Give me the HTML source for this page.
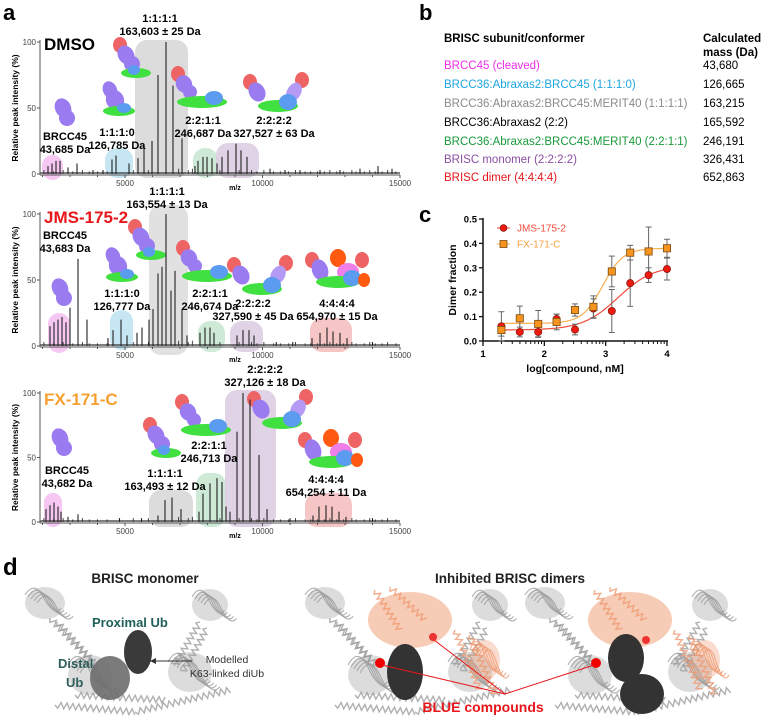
<!DOCTYPE html>
<html><head><meta charset="utf-8">
<style>
html,body{margin:0;padding:0;background:#fff;}
svg{display:block;font-family:"Liberation Sans",Arial,sans-serif;}
.b{font-weight:bold;}
</style></head>
<body>
<svg id="fig" width="763" height="717" viewBox="0 0 763 717" xmlns="http://www.w3.org/2000/svg">
<text x="3" y="20" font-size="22" class="b">a</text>
<text x="419" y="20" font-size="22" class="b">b</text>
<text x="419" y="222" font-size="22" class="b">c</text>
<text x="3" y="575" font-size="24" class="b">d</text>

<g id="spectra"></g>

<g font-size="11" class="b" text-anchor="middle">
<text x="44" y="50" font-size="17" text-anchor="start">DMSO</text>
<text x="160" y="22">1:1:1:1</text>
<text x="160" y="35">163,603 ± 25 Da</text>
<text x="65" y="140">BRCC45</text>
<text x="65" y="153">43,685 Da</text>
<text x="117" y="136">1:1:1:0</text>
<text x="117" y="149">126,785 Da</text>
<text x="203" y="124">2:2:1:1</text>
<text x="203" y="137">246,687 Da</text>
<text x="274" y="124">2:2:2:2</text>
<text x="274" y="137">327,527 ± 63 Da</text>

<text x="44" y="223" font-size="17" fill="#e8161b" text-anchor="start">JMS-175-2</text>
<text x="167" y="195">1:1:1:1</text>
<text x="167" y="208">163,554 ± 13 Da</text>
<text x="65" y="239">BRCC45</text>
<text x="65" y="252">43,683 Da</text>
<text x="122" y="297">1:1:1:0</text>
<text x="122" y="310">126,777 Da</text>
<text x="210" y="297">2:2:1:1</text>
<text x="210" y="310">246,674 Da</text>
<text x="253" y="307">2:2:2:2</text>
<text x="253" y="320">327,590 ± 45 Da</text>
<text x="337" y="307">4:4:4:4</text>
<text x="337" y="320">654,970 ± 15 Da</text>

<text x="44" y="405" font-size="17" fill="#f5a030" text-anchor="start">FX-171-C</text>
<text x="265" y="373">2:2:2:2</text>
<text x="265" y="386">327,126 ± 18 Da</text>
<text x="67" y="474">BRCC45</text>
<text x="67" y="487">43,682 Da</text>
<text x="165" y="477">1:1:1:1</text>
<text x="165" y="490">163,493 ± 12 Da</text>
<text x="209" y="449">2:2:1:1</text>
<text x="209" y="462">246,713 Da</text>
<text x="326" y="483">4:4:4:4</text>
<text x="326" y="496">654,254 ± 11 Da</text>
</g>

<g font-size="11.5">
<text x="444" y="42" class="b">BRISC subunit/conformer</text>
<text x="703" y="42" class="b">Calculated</text>
<text x="703" y="56" class="b">mass (Da)</text>
<text x="444" y="69" fill="#ee2ee8">BRCC45 (cleaved)</text>
<text x="703" y="69">43,680</text>
<text x="444" y="88" fill="#1ea6e0">BRCC36:Abraxas2:BRCC45 (1:1:1:0)</text>
<text x="703" y="88">126,665</text>
<text x="444" y="107" fill="#8a8a8a">BRCC36:Abraxas2:BRCC45:MERIT40 (1:1:1:1)</text>
<text x="703" y="107">163,215</text>
<text x="444" y="126">BRCC36:Abraxas2 (2:2)</text>
<text x="703" y="126">165,592</text>
<text x="444" y="145" fill="#1a9a3c">BRCC36:Abraxas2:BRCC45:MERIT40 (2:2:1:1)</text>
<text x="703" y="145">246,191</text>
<text x="444" y="163" fill="#8b4ea0">BRISC monomer (2:2:2:2)</text>
<text x="703" y="163">326,431</text>
<text x="444" y="181" fill="#e8161b">BRISC dimer (4:4:4:4)</text>
<text x="703" y="181">652,863</text>
</g>

<g id="chart"></g>

<g id="panel-d">
<text x="145" y="583" font-size="13.5" class="b" text-anchor="middle" fill="#222">BRISC monomer</text>
<text x="510" y="583" font-size="13.5" class="b" text-anchor="middle" fill="#222">Inhibited BRISC dimers</text>
<g id="ribbons"></g>
<ellipse cx="110" cy="678" rx="20" ry="22" fill="#6d6d6d" opacity="0.9"/>
<ellipse cx="138" cy="652" rx="14" ry="22" fill="#3a3a3a"/>
<text x="92" y="627" font-size="13" class="b" fill="#1f5f5b">Proximal Ub</text>
<text x="58" y="668" font-size="13" class="b" fill="#2f5f5b">Distal</text>
<text x="66" y="687" font-size="13" class="b" fill="#2f5f5b">Ub</text>
<line x1="192" y1="661" x2="150" y2="661" stroke="#333" stroke-width="1"/>
<path d="M150 661 l6 -3 l0 6 z" fill="#333"/>
<text x="227" y="663" font-size="10.5" text-anchor="middle" fill="#333">Modelled</text>
<text x="227" y="677" font-size="10.5" text-anchor="middle" fill="#333">K63-linked diUb</text>

<ellipse cx="405" cy="672" rx="18" ry="28" fill="#333"/>
<circle cx="380" cy="663" r="5" fill="#e00"/>
<circle cx="433" cy="637" r="4" fill="#e33"/>
<ellipse cx="626" cy="658" rx="18" ry="24" fill="#333"/>
<ellipse cx="642" cy="694" rx="22" ry="20" fill="#333"/>
<circle cx="596" cy="663" r="5" fill="#e00"/>
<circle cx="646" cy="640" r="4" fill="#e33"/>
<g stroke="#e8161b" stroke-width="1">
<line x1="505" y1="694" x2="382" y2="665"/><line x1="505" y1="694" x2="434" y2="640"/><line x1="505" y1="694" x2="594" y2="665"/>
</g>
<text x="483" y="712" font-size="14" class="b" fill="#e8161b" text-anchor="middle">BLUE compounds</text>
</g>
</svg>
<script>
// ===== Panel a spectra data (m/z, relative intensity %) =====
const dmsoMz = [2200,2345,2491,2636,2927,3254,3836,4200,4527,4673,5145,5473,5691,5982,6200,6491,6745,7073,7545,7654,7836,7982,8163,8345,8527,8745,9036,9218,9436,10273,10818,11364,12091,12818,13545,14200,14709];
const dmsoInt = [6,8,10,10,5,8,3,3,11,14,8,12,21,25,75,100,67,27,6,10,13,13,12,8,13,18,23,18,13,4,3,3,3,3,4,6,4];
const jmsMz = [2273,2418,2564,2709,2854,3000,3291,3618,4382,4564,4855,5073,5436,5618,5873,6018,6200,6345,6491,6673,6818,7073,7254,7727,7909,8091,8236,9073,9291,9509,9691,10500,11100,11800,12091,12345,12564,12818,13073,14000];
const jmsInt = [15,18,20,22,18,29,66,20,6,12,20,8,10,14,20,28,55,60,100,42,57,28,8,10,14,14,10,8,12,12,8,3,3,6,10,14,11,10,6,3];
const fxMz = [2127,2273,2418,2564,2673,2927,3291,4800,5600,6200,6454,6709,7036,7691,7836,8091,8345,8527,8673,8818,9073,9291,9545,9873,10164,11000,11836,12054,12309,12527,12782,13036,14000];
const fxInt = [10,13,15,12,8,4,6,3,3,5,17,19,10,8,22,30,34,31,12,8,70,100,95,52,10,3,5,12,13,12,8,4,3];
const noiseMz = [2050,2400,2750,3100,3450,3700,4000,4350,5300,5850,6950,7300,7450,8450,9150,9600,9800,10050,10400,10650,10950,11200,11550,11750,12000,12250,12450,12700,12950,13250,13400,13700,13900,14100,14350,14550,14850];
const noiseInt = [3,2,3,2,3,2,2,2,3,3,4,3,4,3,3,3,2,3,2,2,2,3,2,2,2,2,3,2,2,3,2,2,3,2,2,3,2];
const mzTicks = [5000,10000,15000];
const intTicks = [0,50,100];

const NS = "http://www.w3.org/2000/svg";
function mk(tag, attrs, parent){ const e=document.createElementNS(NS,tag); for(const k in attrs) e.setAttribute(k,attrs[k]); if(parent) parent.appendChild(e); return e; }

const panels = [
 {mz:dmsoMz, it:dmsoInt, top:42, base:174, name:'dmso',
  ovals:[[42,155,63,180,'#f3bdf0'],[105,148,133,178,'#bde2f2'],[135,40,188,178,'#d6d6d6'],[193,148,218,178,'#c6e5cf'],[216,143,259,178,'#dacbe0']],
  blobs:[[63,112,'m'],[115,100,'t'],[130,60,'q'],[200,88,'d'],[278,92,'f']]},
 {mz:jmsMz, it:jmsInt, top:214, base:346, name:'jms',
  ovals:[[48,313,70,353,'#f3bdf0'],[110,310,133,350,'#bde2f2'],[149,205,188,355,'#dcdcdc'],[198,321,225,352,'#c6e5cf'],[230,321,263,352,'#dacbe0'],[310,318,352,352,'#f4bcbc']],
  blobs:[[60,292,'m'],[118,266,'t'],[145,242,'q'],[205,262,'d'],[262,275,'f'],[338,268,'x']]},
 {mz:fxMz, it:fxInt, top:393, base:522, name:'fx',
  ovals:[[44,493,62,527,'#f3bdf0'],[149,490,193,527,'#d6d6d6'],[196,473,226,527,'#c6e5cf'],[225,390,276,527,'#dacbe0'],[305,493,352,527,'#f4bcbc']],
  blobs:[[60,442,'m'],[160,440,'q'],[204,416,'d'],[282,409,'f'],[331,448,'x']]}
];
const xA = m => 40 + (m-1909)*0.0275;
const sp = document.getElementById('spectra');
function blob(g,cx,cy,type){
  const P='#9b7cf0',G='#3fe03f',B='#5c9cf0',R='#ee6464',O='#ff5a10',K='#f07ee8';
  const parts={
    m:[[0,-4,8,10,P,-25],[4,6,8,8,P,-25]],
    t:[[-5,-10,7,9,P,-25],[0,0,9,10,P,-25],[4,11,16,5,G,0],[9,8,7,5,B,0]],
    q:[[-10,-15,7,8,R,0],[-4,-5,8,10,P,-30],[2,4,8,8,P,-30],[6,13,15,5,G,0],[4,10,6,5,B,0]],
    d:[[-22,-14,7,8,R,0],[-16,-4,8,9,P,-30],[-10,4,7,7,P,-30],[2,14,25,6,G,0],[14,10,9,7,B,0]],
    f:[[-28,-10,7,8,R,0],[-21,0,8,10,P,-30],[24,-12,7,8,R,0],[16,0,7,10,'#b49af5',30],[0,14,20,6,G,0],[10,10,9,8,B,0]],
    x:[[-26,-8,7,8,R,0],[-18,2,8,11,P,-20],[0,-10,8,9,O,0],[24,-8,7,8,R,0],[10,4,11,9,K,0],[0,14,22,6,G,0],[14,10,9,8,B,0],[26,12,6,7,O,0]]
  }[type];
  parts.forEach(p=>{ mk('ellipse',{cx:cx+p[0],cy:cy+p[1],rx:p[2],ry:p[3],fill:p[4],transform:`rotate(${p[5]} ${cx+p[0]} ${cy+p[1]})`},g); });
}
panels.forEach(p=>{
  const g = mk('g',{},sp);
  
  
  const yA = v => p.base - v/100*(p.base-p.top);
  p.ovals.forEach(o=>{
    const r = mk('rect',{x:o[0],y:o[1],width:o[2]-o[0],height:o[3]-o[1],rx:Math.min(12,(o[2]-o[0])/2),fill:o[4],opacity:0.85},g);
    
    
  });
  p.blobs.forEach(b=>blob(g,b[0],b[1],b[2]));
  mk('line',{x1:40,y1:p.base-1,x2:400,y2:p.base-1,stroke:'#333','stroke-width':1.2},g);
  noiseMz.forEach((m,i)=>{
    const x=xA(m);
    mk('line',{x1:x,y1:p.base,x2:x,y2:yA(noiseInt[i]),stroke:'#333','stroke-width':0.9},g);
  });
  p.mz.forEach((m,i)=>{
    const x=xA(m);
    const l = mk('line',{x1:x,y1:p.base,x2:x,y2:yA(p.it[i]),stroke:'#222','stroke-width':1.1},g);
    
    
  });
  mk('line',{x1:40,y1:p.top-2,x2:40,y2:p.base+1,stroke:'#555','stroke-width':1},g);
  mk('line',{x1:40,y1:p.base+1,x2:400,y2:p.base+1,stroke:'#555','stroke-width':1},g);
  intTicks.forEach(v=>{
    mk('line',{x1:37,y1:yA(v),x2:40,y2:yA(v),stroke:'#555'},g);
    const t=mk('text',{x:36,y:yA(v)+3,'font-size':8,'text-anchor':'end',fill:'#444'},g); t.textContent=v;
    
    
  });
  for(let m=2000;m<=15000;m+=1000){ const x=xA(m); mk('line',{x1:x,y1:p.base+1,x2:x,y2:p.base+(m%5000?3:4),stroke:'#555'},g); }
  mzTicks.forEach(m=>{
    const t=mk('text',{x:xA(m),y:p.base+12,'font-size':8,'text-anchor':'middle',fill:'#444'},g); t.textContent=m;
    
    
  });
  const mzl=mk('text',{x:235,y:p.base+16,'font-size':7,'font-weight':'bold','text-anchor':'middle'},g); mzl.textContent='m/z';
  
  
  const cy=(p.top+p.base)/2;
  const yl=mk('text',{x:18,y:cy,'font-size':8.5,'font-weight':'bold','text-anchor':'middle',transform:`rotate(-90 18 ${cy})`},g); yl.textContent='Relative peak intensity (%)';
  
  
});

// ===== Panel d decorative ribbons =====
(function(){
  const rg=document.getElementById('ribbons');
  function helix(x1,y1,x2,y2,col,w){
    const n=Math.max(4,Math.round(Math.hypot(x2-x1,y2-y1)/3));
    const dx=(x2-x1)/n, dy=(y2-y1)/n, L=Math.hypot(dx,dy)||1, nx=-dy/L*3, ny=dx/L*3;
    let d='M'+x1+' '+y1;
    for(let i=1;i<=n;i++){ const s=i%2?1:-1; d+=' L'+(x1+dx*i+nx*s).toFixed(1)+' '+(y1+dy*i+ny*s).toFixed(1); }
    mk('path',{d:d,fill:'none',stroke:col,'stroke-width':w||1.4,opacity:0.8},rg);
  }
  function tangle(cx,cy,rx,ry,col){
    mk('ellipse',{cx:cx,cy:cy,rx:rx,ry:ry,fill:col,opacity:0.35},rg);
    for(let k=0;k<5;k++){
      mk('path',{d:`M${cx-rx+k*3} ${cy-ry/2+k*2} q${rx/2} ${-ry} ${rx} ${ry/3} q${rx/2} ${ry} ${rx*0.8} ${ry/2}`,fill:'none',stroke:col,'stroke-width':1.1,opacity:0.8},rg);
    }
  }
  const gy='#9c9c9c', or='#ef9a72';
  function unit(ox,orange){
    tangle(ox+30,603,20,16,gy); tangle(ox+195,605,18,16,gy);
    helix(ox+35,618,ox+75,660,gy); helix(ox+42,622,ox+82,666,gy);
    helix(ox+185,622,ox+160,665,gy); helix(ox+192,628,ox+168,672,gy);
    helix(ox+40,705,ox+120,712,gy); helix(ox+120,712,ox+215,690,gy); helix(ox+60,695,ox+150,700,gy);
    tangle(ox+75,675,22,20,gy); tangle(ox+175,672,22,20,gy);
  }
  unit(15); unit(295); unit(515);
  // orange partner copies
  [[370,590],[590,590]].forEach(o=>{
    mk('ellipse',{cx:o[0]+40,cy:o[1]+30,rx:42,ry:28,fill:'#f2b08f',opacity:0.65},rg);
    helix(o[0]+5,o[1],o[0]+30,o[1]+40,or); helix(o[0]+20,o[1]-3,o[0]+55,o[1]+30,or);
    helix(o[0]+85,o[1]+40,o[0]+110,o[1]+100,or); helix(o[0]+100,o[1]+45,o[0]+125,o[1]+105,or);
    tangle(o[0]+115,o[1]+70,15,20,or);
  });
})();

// ===== Panel c chart data =====
const logConc = [1.3,1.6,1.9,2.2,2.5,2.8,3.1,3.4,3.7,4.0];
const jmsMean = [0.060,0.037,0.037,0.090,0.047,0.133,0.123,0.237,0.270,0.295];
const jmsErr  = [0.060,0.020,0.020,0.020,0.022,0.040,0.088,0.095,0.030,0.045];
const fxMean  = [0.045,0.093,0.070,0.078,0.127,0.140,0.285,0.362,0.367,0.380];
const fxErr   = [0.025,0.050,0.055,0.032,0.025,0.045,0.063,0.030,0.100,0.037];
const jmsFit = [0.045,0.31,3.2,1.5];
const fxFit  = [0.072,0.38,2.95,2.6];
const yTicks = [0,0.1,0.2,0.3,0.4,0.5];
const xTicks = [1,2,3,4];

const ch = document.getElementById('chart');
const xS = v => 483 + (v-1)*(184/3);
const yS = v => 341 - v*244;
mk('line',{x1:483,y1:yS(0.5)-1,x2:483,y2:341,stroke:'#111','stroke-width':1.5},ch);
mk('line',{x1:483,y1:341,x2:668,y2:341,stroke:'#111','stroke-width':1.5},ch);
yTicks.forEach(v=>{
  mk('line',{x1:479,y1:yS(v),x2:483,y2:yS(v),stroke:'#111','stroke-width':1.3},ch);
  const t=mk('text',{x:477,y:yS(v)+3.5,'font-size':9.5,'font-weight':'bold','text-anchor':'end'},ch); t.textContent=v.toFixed(1);
  
  
});
xTicks.forEach(v=>{
  mk('line',{x1:xS(v),y1:341,x2:xS(v),y2:346,stroke:'#111','stroke-width':1.3},ch);
  const t=mk('text',{x:xS(v),y:357,'font-size':9.5,'font-weight':'bold','text-anchor':'middle'},ch); t.textContent=v;
  
  
});
for(let d=1; d<4; d++) for(let k=2;k<10;k++){ const x=xS(d+Math.log10(k)); mk('line',{x1:x,y1:341,x2:x,y2:344,stroke:'#111','stroke-width':1},ch); }
const xt=mk('text',{x:575,y:372,'font-size':10.5,'font-weight':'bold','text-anchor':'middle'},ch); xt.textContent='log[compound, nM]';


const yt=mk('text',{x:456,y:280,'font-size':10.5,'font-weight':'bold','text-anchor':'middle',transform:'rotate(-90 456 280)'},ch); yt.textContent='Dimer fraction';



function fitPath(f){ let d=''; for(let x=1.3;x<=4.0001;x+=0.02){ const y=f[0]+(f[1]-f[0])/(1+Math.pow(10,(f[2]-x)*f[3])); d+=(d?'L':'M')+xS(x).toFixed(1)+' '+yS(y).toFixed(1);} return d; }
const series=[
 {m:jmsMean,e:jmsErr,f:jmsFit,c:'#f04a3a',fill:'#ee1a10',shape:'circle',name:'jms'},
 {m:fxMean,e:fxErr,f:fxFit,c:'#f9b050',fill:'#f7941d',shape:'square',name:'fx'}
];
series.forEach(s=>{
  const p=mk('path',{d:fitPath(s.f),fill:'none',stroke:s.c,'stroke-width':1.2},ch);
  
  
});
series.forEach(s=>{
  logConc.forEach((x,i)=>{
    const cx=xS(x), y1=yS(s.m[i]+s.e[i]), y2=yS(Math.max(0,s.m[i]-s.e[i]));
    mk('line',{x1:cx,y1:y1,x2:cx,y2:y2,stroke:'#666','stroke-width':1},ch);
    mk('line',{x1:cx-3,y1:y1,x2:cx+3,y2:y1,stroke:'#666','stroke-width':1},ch);
    mk('line',{x1:cx-3,y1:y2,x2:cx+3,y2:y2,stroke:'#666','stroke-width':1},ch);
  });
});
series.forEach(s=>{
  logConc.forEach((x,i)=>{
    const cx=xS(x), cy=yS(s.m[i]);
    let el;
    if(s.shape==='circle') el=mk('circle',{cx:cx,cy:cy,r:3.6,fill:s.fill,stroke:'#8a1a10','stroke-width':0.8},ch);
    else el=mk('rect',{x:cx-3.6,y:cy-3.6,width:7.2,height:7.2,fill:s.fill,stroke:'#7a4a10','stroke-width':0.8},ch);
    
    
  });
});
const lg=mk('g',{},ch);


mk('line',{x1:497,y1:228,x2:510,y2:228,stroke:'#f04a3a'},lg);
mk('circle',{cx:503.5,cy:228,r:3.4,fill:'#ee1a10',stroke:'#8a1a10','stroke-width':0.8},lg);
const l1=mk('text',{x:517,y:231.5,'font-size':10,fill:'#f04a3a'},lg); l1.textContent='JMS-175-2';


mk('line',{x1:497,y1:244,x2:510,y2:244,stroke:'#f9b050'},lg);
mk('rect',{x:500,y:240.5,width:7,height:7,fill:'#f7941d',stroke:'#7a4a10','stroke-width':0.8},lg);
const l2=mk('text',{x:517,y:247.5,'font-size':10,fill:'#f9a040'},lg); l2.textContent='FX-171-C';


</script>
</body></html>
